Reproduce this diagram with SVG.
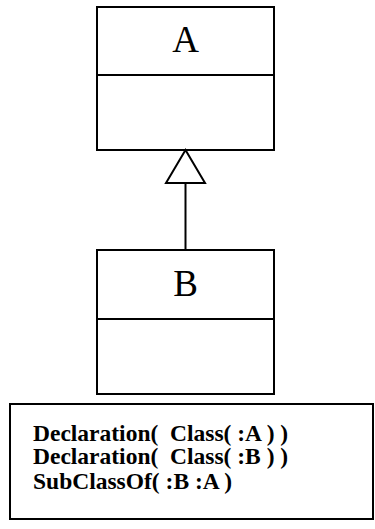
<svg xmlns="http://www.w3.org/2000/svg" width="375" height="529" viewBox="0 0 375 529">
  <style>
    .box { fill: #fff; stroke: #000; stroke-width: 2; }
    .sep { stroke: #000; stroke-width: 2; }
    .name { font-family: "Liberation Serif", "Times New Roman", serif; font-size: 37px; text-anchor: middle; fill: #000; }
    .code { font-family: "Liberation Serif", "Times New Roman", serif; font-size: 23.5px; font-weight: bold; fill: #000; white-space: pre; }
    .edge { stroke: #000; stroke-width: 2; fill: none; }
  </style>
  <rect width="375" height="529" fill="#fff"/>

  <g id="classA">
    <rect class="box" x="97" y="7" width="177" height="143"/>
    <line class="sep" x1="97" y1="75" x2="274" y2="75"/>
    <text class="name" x="185.5" y="52">A</text>
  </g>

  <g id="classB">
    <rect class="box" x="97" y="250" width="177" height="144"/>
    <line class="sep" x1="97" y1="319" x2="274" y2="319"/>
    <text class="name" x="185.5" y="296">B</text>
  </g>

  <g id="connectors">
    <line class="edge" x1="185.5" y1="183" x2="185.5" y2="250"/>
    <polygon class="edge" fill="#fff" points="185.5,150 166,183 205,183"/>
  </g>

  <g id="axioms">
    <rect class="box" x="10" y="404" width="363" height="115"/>
    <text class="code" x="33" y="441" xml:space="preserve">Declaration(  Class( :A ) )</text>
    <text class="code" x="33" y="464" xml:space="preserve">Declaration(  Class( :B ) )</text>
    <text class="code" x="33" y="489" xml:space="preserve">SubClassOf( :B :A )</text>
  </g>
</svg>
